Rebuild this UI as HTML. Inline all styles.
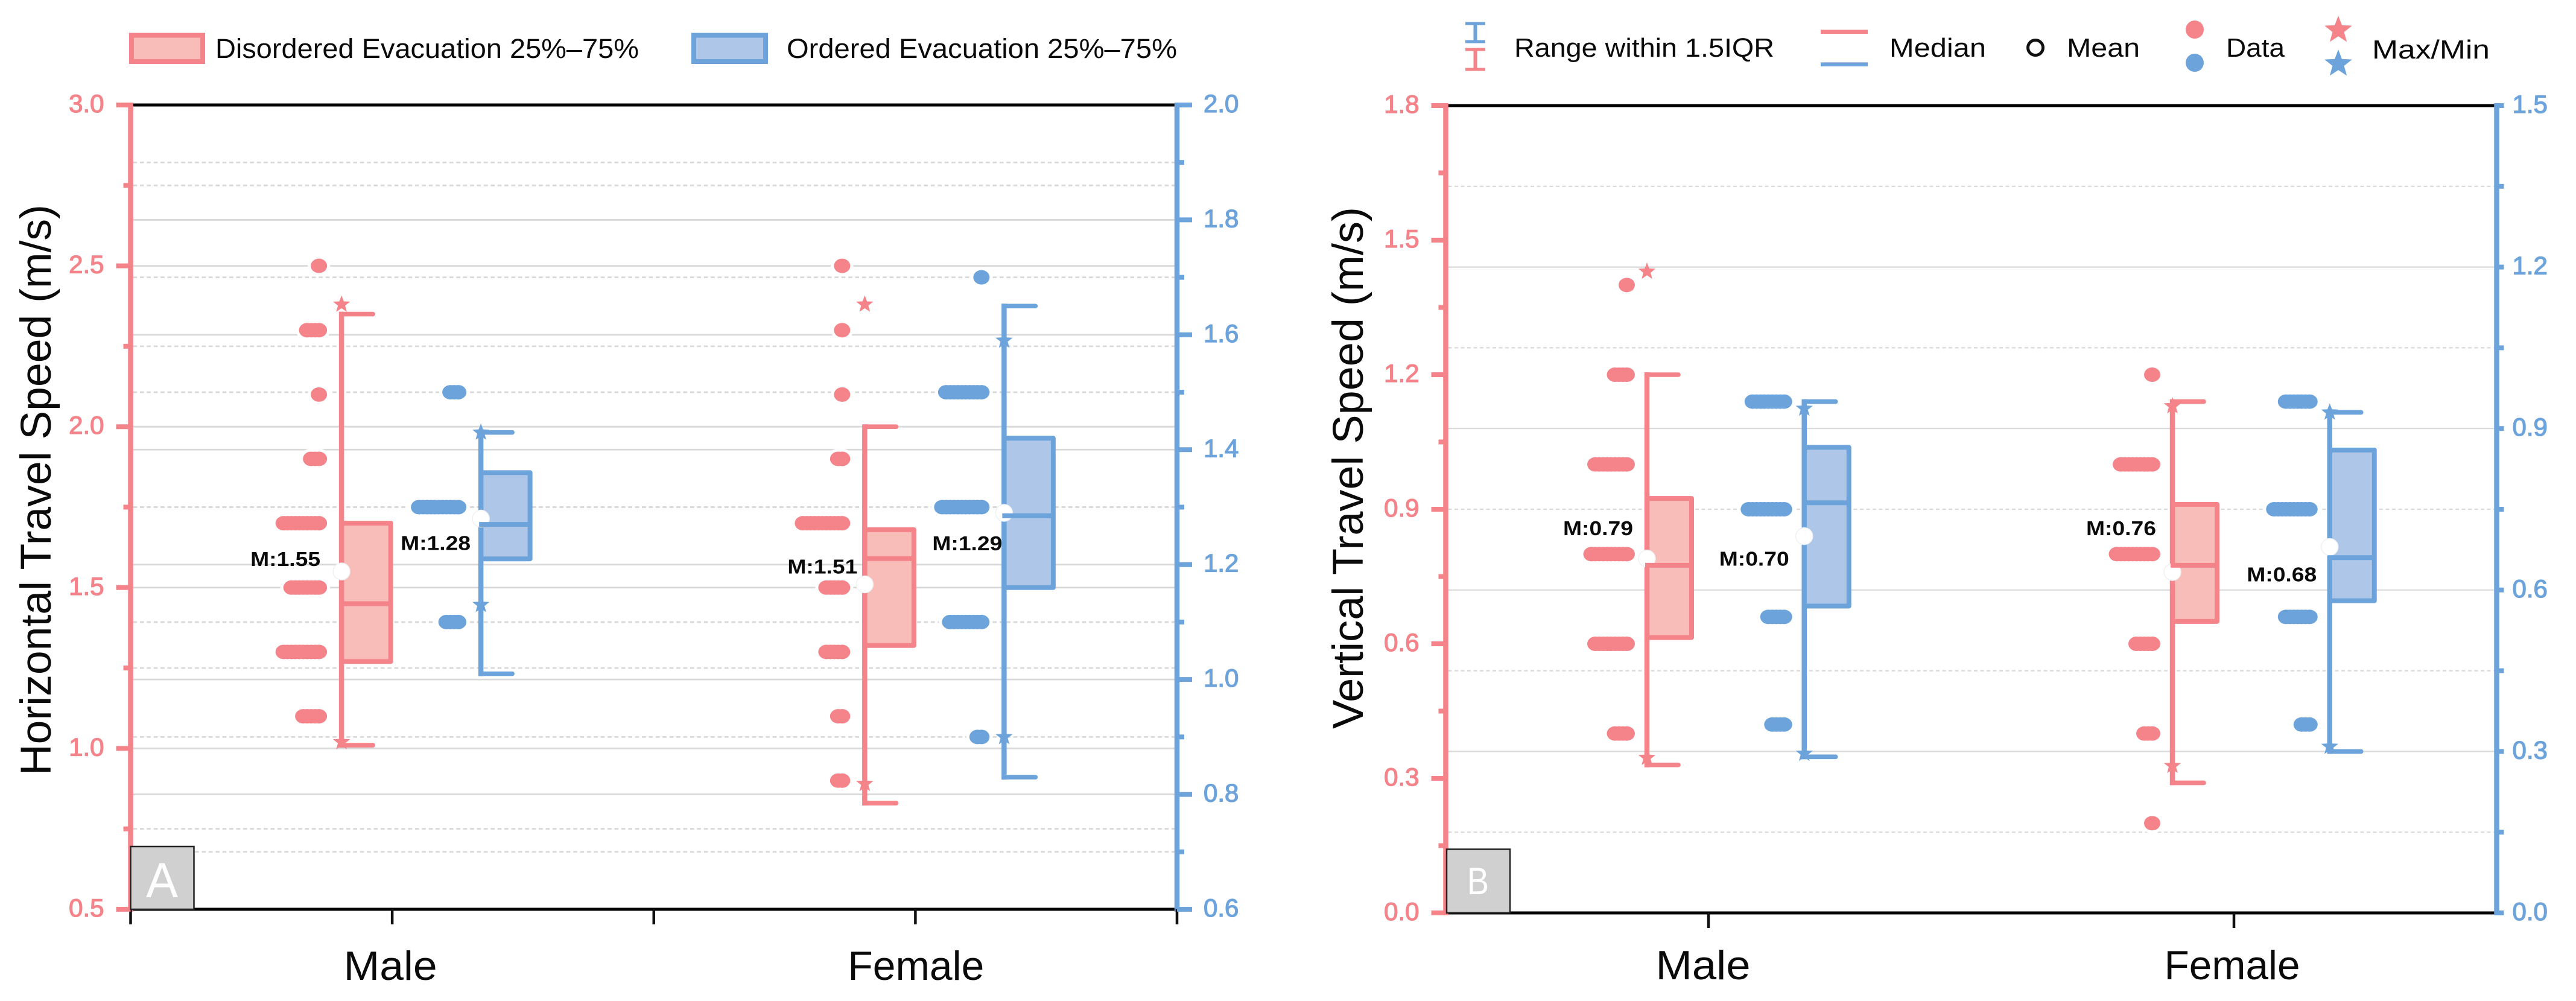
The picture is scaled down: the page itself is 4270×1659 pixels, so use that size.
<!DOCTYPE html>
<html lang="en">
<head>
<meta charset="utf-8">
<title>Evacuation travel speed box plots</title>
<style>
html,body{margin:0;padding:0;background:#fff;}
svg{display:block;}
text{font-family:"Liberation Sans",sans-serif;}
</style>
</head>
<body>
<svg id="figure" xmlns="http://www.w3.org/2000/svg" width="4270" height="1659" viewBox="0 0 4270 1659">
  <rect x="0" y="0" width="4270" height="1659" fill="#ffffff"/>
  <g>
    <rect x="218" y="58.5" width="118" height="43.5" fill="#f9bdb9" stroke="#f4838a" stroke-width="8"/>
    <text x="357" y="96" font-size="45" fill="#0a0a0a" textLength="702" lengthAdjust="spacingAndGlyphs">Disordered Evacuation 25%–75%</text>
    <rect x="1150" y="58.5" width="119" height="43.5" fill="#aec7e8" stroke="#6ca3db" stroke-width="8"/>
    <text x="1304" y="96" font-size="45" fill="#0a0a0a" textLength="647" lengthAdjust="spacingAndGlyphs">Ordered Evacuation 25%–75%</text>
  </g>
  <g>
    <g fill="none" stroke="#6ca3db">
      <path stroke-width="5" d="M2429 39H2462M2429 69H2462"/>
      <path stroke-width="6" d="M2445.5 39V69"/>
    </g>
    <g fill="none" stroke="#f4838a">
      <path stroke-width="5" d="M2429 82H2462M2429 115H2462"/>
      <path stroke-width="6" d="M2445.5 82V115"/>
    </g>
    <text x="2510" y="94" font-size="44" fill="#0a0a0a" textLength="431" lengthAdjust="spacingAndGlyphs">Range within 1.5IQR</text>
    <line x1="3018" x2="3096" y1="52.7" y2="52.7" stroke="#f4838a" stroke-width="6.7"/>
    <line x1="3018" x2="3096" y1="106.7" y2="106.7" stroke="#6ca3db" stroke-width="6.7"/>
    <text x="3132" y="94" font-size="44" fill="#0a0a0a" textLength="160" lengthAdjust="spacingAndGlyphs">Median</text>
    <circle cx="3374" cy="79" r="12.5" fill="#fff" stroke="#111" stroke-width="5"/>
    <text x="3426" y="94" font-size="44" fill="#0a0a0a" textLength="121" lengthAdjust="spacingAndGlyphs">Mean</text>
    <circle cx="3638" cy="49" r="15" fill="#f4838a"/>
    <circle cx="3638" cy="104" r="15" fill="#6ca3db"/>
    <text x="3690" y="94" font-size="44" fill="#0a0a0a" textLength="97" lengthAdjust="spacingAndGlyphs">Data</text>
    <polygon id="legendStarA" fill="#f4838a"/>
    <polygon id="legendStarB" fill="#6ca3db"/>
    <text x="3932" y="97" font-size="44" fill="#0a0a0a" textLength="195" lengthAdjust="spacingAndGlyphs">Max/Min</text>
  </g>
</svg>
<script>
// ---------- shared categories ----------
const categories = ['Male', 'Female'];

// ---------- panel A: axis ticks ----------
const aLeftMajor = ['0.5', '1.0', '1.5', '2.0', '2.5', '3.0'];
const aLeftMinor = [0.75, 1.25, 1.75, 2.25, 2.75];
const aRightMajor = ['0.6', '0.8', '1.0', '1.2', '1.4', '1.6', '1.8', '2.0'];
const aRightMinor = [0.7, 0.9, 1.1, 1.3, 1.5, 1.7, 1.9];

// ---------- panel A: disordered (left axis), [male, female] ----------
const aDisQ1 = [1.27, 1.32];
const aDisMedian = [1.45, 1.59];
const aDisQ3 = [1.70, 1.68];
const aDisLow = [1.01, 0.83];
const aDisHigh = [2.35, 2.00];
const aDisMean = [1.55, 1.51];
const aDisMax = [2.38, 2.38];
const aDisMin = [1.02, 0.89];
const aDisMaleValues = [2.5, 2.3, 2.1, 1.9, 1.7, 1.5, 1.3, 1.1];
const aDisMaleCounts = [1, 4, 1, 3, 10, 8, 10, 5];
const aDisFemaleValues = [2.5, 2.3, 2.1, 1.9, 1.7, 1.5, 1.3, 1.1, 0.9];
const aDisFemaleCounts = [1, 1, 1, 2, 11, 5, 5, 2, 2];

// ---------- panel A: ordered (right axis), [male, female] ----------
const aOrdQ1 = [1.21, 1.16];
const aOrdMedian = [1.27, 1.285];
const aOrdQ3 = [1.36, 1.42];
const aOrdLow = [1.01, 0.83];
const aOrdHigh = [1.43, 1.65];
const aOrdMean = [1.28, 1.29];
const aOrdMax = [1.43, 1.59];
const aOrdMin = [1.13, 0.90];
const aOrdMaleValues = [1.5, 1.3, 1.1];
const aOrdMaleCounts = [3, 11, 4];
const aOrdFemaleValues = [1.7, 1.5, 1.3, 1.1, 0.9];
const aOrdFemaleCounts = [1, 10, 11, 9, 2];

// ---------- panel B: axis ticks ----------
const bLeftMajor = ['0.0', '0.3', '0.6', '0.9', '1.2', '1.5', '1.8'];
const bLeftMinor = [0.15, 0.45, 0.75, 1.05, 1.35, 1.65];
const bRightMajor = ['0.0', '0.3', '0.6', '0.9', '1.2', '1.5'];
const bRightMinor = [0.15, 0.45, 0.75, 1.05, 1.35];

// ---------- panel B: disordered (left axis), [male, female] ----------
const bDisQ1 = [0.614, 0.65];
const bDisMedian = [0.775, 0.775];
const bDisQ3 = [0.924, 0.911];
const bDisLow = [0.33, 0.29];
const bDisHigh = [1.20, 1.14];
const bDisMean = [0.79, 0.76];
const bDisMax = [1.43, 1.13];
const bDisMin = [0.346, 0.328];
const bDisMaleValues = [1.4, 1.2, 1.0, 0.8, 0.6, 0.4];
const bDisMaleCounts = [1, 4, 9, 10, 9, 4];
const bDisFemaleValues = [1.2, 1.0, 0.8, 0.6, 0.4, 0.2];
const bDisFemaleCounts = [1, 9, 10, 5, 3, 1];

// ---------- panel B: ordered (right axis), [male, female] ----------
const bOrdQ1 = [0.57, 0.58];
const bOrdMedian = [0.762, 0.66];
const bOrdQ3 = [0.865, 0.86];
const bOrdLow = [0.29, 0.30];
const bOrdHigh = [0.95, 0.93];
const bOrdMean = [0.70, 0.68];
const bOrdMax = [0.937, 0.93];
const bOrdMin = [0.296, 0.309];
const bOrdMaleValues = [0.95, 0.75, 0.55, 0.35];
const bOrdMaleCounts = [9, 10, 5, 4];
const bOrdFemaleValues = [0.95, 0.75, 0.55, 0.35];
const bOrdFemaleCounts = [7, 10, 7, 3];

// ---------- rendering ----------
const NS = 'http://www.w3.org/2000/svg';
const PINK = '#f4838a', PINK_FILL = '#f9bdb9', BLUE = '#6ca3db', BLUE_FILL = '#aec7e8';
const figure = document.getElementById('figure');

function mk(parent, tag, attrs, name, text) {
  const el = document.createElementNS(NS, tag);
  for (const k in attrs) el.setAttribute(k, attrs[k]);
  
  
  if (text !== undefined) el.textContent = text;
  parent.appendChild(el);
  return el;
}

function starPoints(cx, cy, R) {
  const pts = [];
  for (let i = 0; i < 10; i++) {
    const r = i % 2 === 0 ? R : R * 0.42;
    const a = -Math.PI / 2 + i * Math.PI / 5;
    pts.push((cx + r * Math.cos(a)).toFixed(1) + ',' + (cy + r * Math.sin(a)).toFixed(1));
  }
  return pts.join(' ');
}
document.getElementById('legendStarA').setAttribute('points', starPoints(3876, 50, 24));
document.getElementById('legendStarB').setAttribute('points', starPoints(3876, 106, 24));

function drawPanel(p) {
  const g = mk(figure, 'g', {}, p.id + '-chart');
  const yL = v => p.bottom - (v - p.lMin) / (p.lMax - p.lMin) * (p.bottom - p.top);
  const yR = v => p.bottom - (v - p.rMin) / (p.rMax - p.rMin) * (p.bottom - p.top);
  const xCat = i => p.left + (i + 0.5) * (p.right - p.left) / categories.length;

  // gridlines
  const gridG = mk(g, 'g', {}, p.id + '-gridlines');
  const grid = (y, dotted) => {
    if (y <= p.top + 2 || y >= p.bottom - 2) return;
    const ln = mk(gridG, 'line', { x1: p.left + 4, x2: p.right, y1: y, y2: y, stroke: '#d9d9d9', 'stroke-width': p.gridW }, dotted ? 'minor-gridline' : 'major-gridline');
    if (dotted) ln.setAttribute('stroke-dasharray', p.gridDash);
  };
  if (p.leftGrid) {
    p.leftMajor.forEach(t => grid(yL(parseFloat(t)), false));
    p.leftMinor.forEach(t => grid(yL(t), true));
  }
  p.rightMajor.forEach(t => grid(yR(parseFloat(t)), false));
  p.rightMinor.forEach(t => grid(yR(t), true));

  // data dots and boxes
  p.series.forEach(s => {
    const y = s.side === 'left' ? yL : yR;
    const sg = mk(g, 'g', {}, p.id + '-' + s.key + '-series');
    categories.forEach((cat, c) => {
      const wx = xCat(c) + s.dx;
      const dotRight = wx - p.dotGap;
      const rx = 13.5, ry = 12;
      const cg = mk(sg, 'g', {}, cat.toLowerCase() + '-' + s.key + '-group');
      const vals = s.dotValues[c], counts = s.dotCounts[c];
      vals.forEach((v, i) => {
        for (let k = 0; k < counts[i]; k++) {
          mk(cg, 'ellipse', { cx: dotRight - rx - k * 6.5, cy: y(v), rx: rx + 5, ry: ry + 5, fill: '#fff' }, 'data-point-halo');
        }
      });
      vals.forEach((v, i) => {
        for (let k = 0; k < counts[i]; k++) {
          mk(cg, 'ellipse', { cx: dotRight - rx - k * 6.5, cy: y(v), rx: rx, ry: ry, fill: s.color }, 'data-point');
        }
      });
      // box
      mk(cg, 'rect', { x: wx, y: y(s.q3[c]), width: p.boxW, height: y(s.q1[c]) - y(s.q3[c]), fill: s.fill, stroke: s.color, 'stroke-width': 8, 'stroke-linejoin': 'round' }, 'iqr-box');
      // whisker
      mk(cg, 'line', { x1: wx, x2: wx, y1: y(s.high[c]) - 4, y2: y(s.low[c]) + 4, stroke: s.color, 'stroke-width': 8.5 }, 'whisker');
      mk(cg, 'line', { x1: wx, x2: wx + p.capW, y1: y(s.high[c]), y2: y(s.high[c]), stroke: s.color, 'stroke-width': 7.6, 'stroke-linecap': 'round' }, 'whisker-cap-upper');
      mk(cg, 'line', { x1: wx, x2: wx + p.capW, y1: y(s.low[c]), y2: y(s.low[c]), stroke: s.color, 'stroke-width': 7.6, 'stroke-linecap': 'round' }, 'whisker-cap-lower');
      // mean
      mk(cg, 'circle', { cx: wx, cy: y(s.mean[c]), r: 14, fill: '#fff', stroke: '#eef1f4', 'stroke-width': 1.5 }, 'mean-marker');
      // median
      mk(cg, 'line', { x1: wx - 3, x2: wx + p.boxW, y1: y(s.median[c]), y2: y(s.median[c]), stroke: s.color, 'stroke-width': 8 }, 'median-line');
      // extremes
      mk(cg, 'polygon', { points: starPoints(wx, y(s.max[c]), 15), fill: s.color }, 'max-star');
      mk(cg, 'polygon', { points: starPoints(wx, y(s.min[c]), 15), fill: s.color }, 'min-star');
      // mean label
      const off = s.labelOffset[c];
      mk(cg, 'text', { x: wx + off[0] - 116, y: y(s.mean[c]) + off[1] + 12, 'font-size': 33, 'font-weight': 'bold', fill: '#0a0a0a', textLength: 116, lengthAdjust: 'spacingAndGlyphs' }, 'mean-label', 'M:' + s.mean[c].toFixed(2));
    });
  });

  // frame
  const fr = mk(g, 'g', {}, p.id + '-frame');
  mk(fr, 'line', { x1: p.left, x2: p.right, y1: p.top, y2: p.top, stroke: '#000', 'stroke-width': 5 }, 'top-border');
  mk(fr, 'line', { x1: p.left, x2: p.right, y1: p.bottom, y2: p.bottom, stroke: '#000', 'stroke-width': 5 }, 'x-axis-line');
  mk(fr, 'line', { x1: p.left, x2: p.left, y1: p.top - 4, y2: p.bottom + 4, stroke: PINK, 'stroke-width': 8.5 }, 'left-y-axis');
  mk(fr, 'line', { x1: p.right, x2: p.right, y1: p.top - 4, y2: p.bottom + 4, stroke: BLUE, 'stroke-width': 8.5 }, 'right-y-axis');

  // x ticks
  p.xTickPositions.forEach(f => {
    const x = p.left + f * (p.right - p.left);
    mk(fr, 'line', { x1: x, x2: x, y1: p.bottom, y2: p.bottom + 25, stroke: '#111', 'stroke-width': 4.5 }, 'x-tick');
  });
  categories.forEach((cat, c) => {
    mk(fr, 'text', { x: xCat(c) + p.catLabelDx[c] - p.catLabelW[c] / 2, y: p.catBaseline, 'font-size': 68, fill: '#0a0a0a', textLength: p.catLabelW[c], lengthAdjust: 'spacingAndGlyphs' }, 'x-label-' + cat.toLowerCase(), cat);
  });

  // y ticks + labels
  p.leftMajor.forEach(t => {
    const y = yL(parseFloat(t));
    mk(fr, 'line', { x1: p.left - 24, x2: p.left, y1: y, y2: y, stroke: PINK, 'stroke-width': 8 }, 'left-major-tick');
    mk(fr, 'text', { x: p.left - 44, y: y + 12, 'font-size': 42, 'text-anchor': 'end', fill: PINK, stroke: PINK, 'stroke-width': 1.3 }, 'left-tick-label', t);
  });
  p.leftMinor.forEach(t => {
    mk(fr, 'line', { x1: p.left - 12, x2: p.left, y1: yL(t), y2: yL(t), stroke: PINK, 'stroke-width': 8 }, 'left-minor-tick');
  });
  p.rightMajor.forEach(t => {
    const y = yR(parseFloat(t));
    mk(fr, 'line', { x1: p.right, x2: p.right + p.rightTick, y1: y, y2: y, stroke: BLUE, 'stroke-width': 8 }, 'right-major-tick');
    mk(fr, 'text', { x: p.right + p.rightLabelGap, y: y + 12, 'font-size': 42, fill: BLUE, stroke: BLUE, 'stroke-width': 1.3 }, 'right-tick-label', t);
  });
  p.rightMinor.forEach(t => {
    mk(fr, 'line', { x1: p.right, x2: p.right + p.rightMinorTick, y1: yR(t), y2: yR(t), stroke: BLUE, 'stroke-width': 8 }, 'right-minor-tick');
  });

  // y title
  mk(fr, 'text', { transform: 'translate(' + p.titleX + ',' + p.titleY + ') rotate(-90)', 'font-size': 71, fill: '#0a0a0a', textLength: p.titleLen, lengthAdjust: 'spacingAndGlyphs' }, 'y-axis-title', p.title);

  // panel badge
  const b = mk(fr, 'g', {}, 'panel-badge-' + p.badge.toLowerCase());
  mk(b, 'rect', { x: p.left + p.badgeDx, y: p.bottom - p.badgeH, width: 105, height: p.badgeH, fill: '#d0d0d0', stroke: '#222', 'stroke-width': 2.5 }, 'panel-badge-box');
  mk(b, 'text', { x: p.left + p.badgeDx + 52 - p.badgeW / 2, y: p.bottom + p.badgeDy, 'font-size': p.badgeSize, fill: '#fff', textLength: p.badgeW, lengthAdjust: 'spacingAndGlyphs' }, 'panel-badge-letter', p.badge);
}

drawPanel({
  id: 'panel-a', left: 216.5, right: 1951, top: 174, bottom: 1507,
  lMin: 0.5, lMax: 3.0, rMin: 0.6, rMax: 2.0,
  leftMajor: aLeftMajor, leftMinor: aLeftMinor, rightMajor: aRightMajor, rightMinor: aRightMinor,
  leftGrid: true, gridW: 2.8, gridDash: '6.7 4.7',
  dotGap: 24, boxW: 81.5, capW: 52,
  xTickPositions: [0, 0.25, 0.5, 0.75, 1], catLabelDx: [-3, 1], catLabelW: [155, 226], catBaseline: 1624,
  rightTick: 25, rightMinorTick: 12, rightLabelGap: 44,
  title: 'Horizontal Travel Speed (m/s)', titleX: 84, titleY: 1285, titleLen: 946,
  badge: 'A', badgeDx: 0, badgeH: 104, badgeDy: -20, badgeSize: 82, badgeW: 53,
  series: [
    { key: 'disordered', side: 'left', color: PINK, fill: PINK_FILL, dx: -84,
      q1: aDisQ1, median: aDisMedian, q3: aDisQ3, low: aDisLow, high: aDisHigh, mean: aDisMean, max: aDisMax, min: aDisMin,
      dotValues: [aDisMaleValues, aDisFemaleValues], dotCounts: [aDisMaleCounts, aDisFemaleCounts],
      labelOffset: [[-35, -21], [-12, -30]] },
    { key: 'ordered', side: 'right', color: BLUE, fill: BLUE_FILL, dx: 147,
      q1: aOrdQ1, median: aOrdMedian, q3: aOrdQ3, low: aOrdLow, high: aOrdHigh, mean: aOrdMean, max: aOrdMax, min: aOrdMin,
      dotValues: [aOrdMaleValues, aOrdFemaleValues], dotCounts: [aOrdMaleCounts, aOrdFemaleCounts],
      labelOffset: [[-17, 40], [-3, 50]] }
  ]
});

drawPanel({
  id: 'panel-b', left: 2396.5, right: 4138.5, top: 175, bottom: 1513,
  lMin: 0, lMax: 1.8, rMin: 0, rMax: 1.5,
  leftMajor: bLeftMajor, leftMinor: bLeftMinor, rightMajor: bRightMajor, rightMinor: bRightMinor,
  leftGrid: false, gridW: 2.2, gridDash: '6 4.5',
  dotGap: 20, boxW: 74, capW: 52,
  xTickPositions: [0.25, 0.75], catLabelDx: [-9, -3], catLabelW: [157, 225], catBaseline: 1623,
  rightTick: 12, rightMinorTick: 12, rightLabelGap: 26,
  title: 'Vertical Travel Speed (m/s)', titleX: 2259, titleY: 1208, titleLen: 865,
  badge: 'B', badgeDx: 1.5, badgeH: 105.5, badgeDy: -31, badgeSize: 63, badgeW: 36,
  series: [
    { key: 'disordered', side: 'left', color: PINK, fill: PINK_FILL, dx: -102,
      q1: bDisQ1, median: bDisMedian, q3: bDisQ3, low: bDisLow, high: bDisHigh, mean: bDisMean, max: bDisMax, min: bDisMin,
      dotValues: [bDisMaleValues, bDisFemaleValues], dotCounts: [bDisMaleCounts, bDisFemaleCounts],
      labelOffset: [[-23, -51], [-27, -73]] },
    { key: 'ordered', side: 'right', color: BLUE, fill: BLUE_FILL, dx: 158.75,
      q1: bOrdQ1, median: bOrdMedian, q3: bOrdQ3, low: bOrdLow, high: bOrdHigh, mean: bOrdMean, max: bOrdMax, min: bOrdMin,
      dotValues: [bOrdMaleValues, bOrdFemaleValues], dotCounts: [bOrdMaleCounts, bOrdFemaleCounts],
      labelOffset: [[-25, 37], [-21.5, 45]] }
  ]
});
</script>
</body>
</html>
